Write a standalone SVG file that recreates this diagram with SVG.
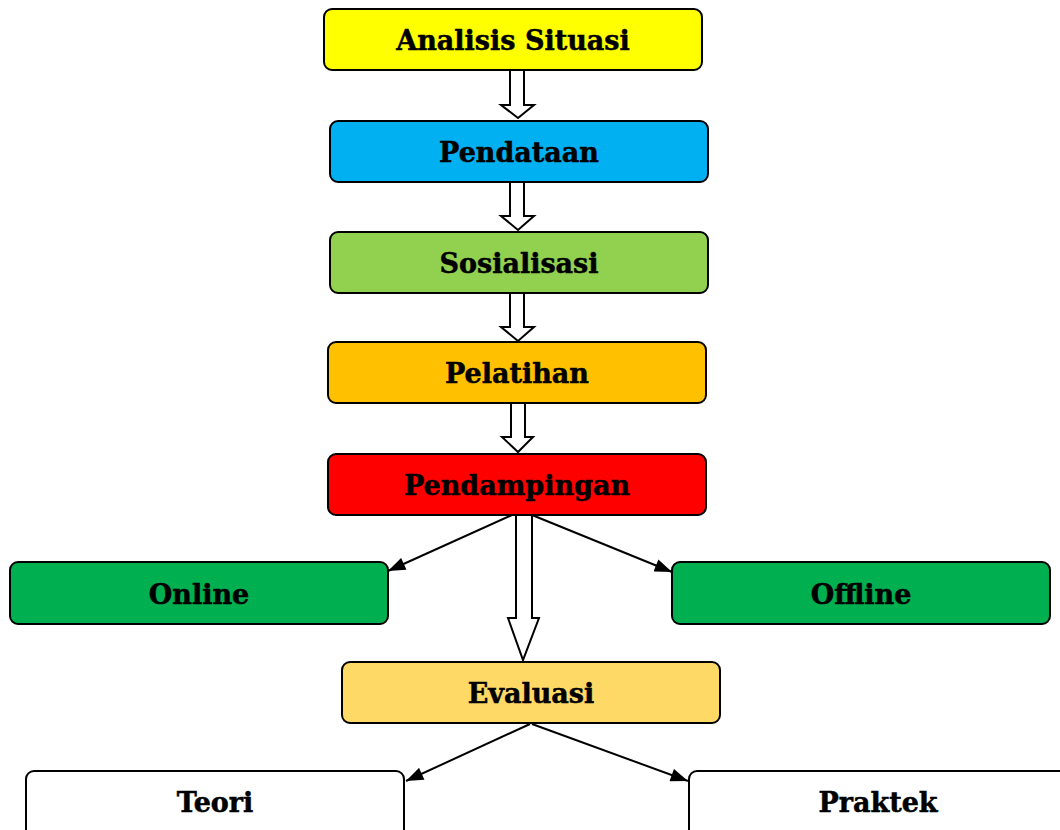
<svg xmlns="http://www.w3.org/2000/svg" width="1060" height="830" viewBox="0 0 1060 830">
<defs>
<style>
.box{stroke:#000;stroke-width:2}
.lbl{font-family:"DejaVu Serif","Liberation Serif",serif;font-weight:bold;font-size:27px;fill:#000;stroke:#000;stroke-width:0.5;text-anchor:middle}
.blk{fill:#fff;stroke:#000;stroke-width:2;stroke-linejoin:miter}
.ln{stroke:#000;stroke-width:2;fill:none}
</style>
<marker id="ah2" viewBox="0 0 16 12" refX="16" refY="6" markerWidth="18" markerHeight="13" markerUnits="userSpaceOnUse" orient="auto">
<path d="M0,0 L16,6 L0,12 Z" fill="#000"/>
</marker>
</defs>
<rect width="1060" height="830" fill="#fff"/>
<g id="connectors">
<path class="blk" d="M510,70 V105 H501 L518,118 L534,105 H524 V70"/>
<path class="blk" d="M510,182 V216 H501 L518,230 L534,216 H524 V182"/>
<path class="blk" d="M510,293 V327 H501 L518,341 L534,327 H524 V293"/>
<path class="blk" d="M511,403 V437 H502 L518,452 L533,437 H525 V403"/>
<path class="blk" d="M516,515 V618 H508 L523,660 L539,618 H532 V515"/>
<line class="ln" x1="512" y1="515" x2="388" y2="571" marker-end="url(#ah2)"/>
<line class="ln" x1="532" y1="515" x2="672" y2="572" marker-end="url(#ah2)"/>
<line class="ln" x1="530" y1="724" x2="406" y2="781" marker-end="url(#ah2)"/>
<line class="ln" x1="532" y1="724" x2="688" y2="781" marker-end="url(#ah2)"/>
</g>
<g id="n1"><rect class="box" x="324" y="9" width="378" height="61" rx="8" fill="#FFFF00"/><text class="lbl" x="513" y="50">Analisis Situasi</text></g>
<g id="n2"><rect class="box" x="330" y="121" width="378" height="61" rx="8" fill="#00B0F0"/><text class="lbl" x="519" y="162">Pendataan</text></g>
<g id="n3"><rect class="box" x="330" y="232" width="378" height="61" rx="8" fill="#92D050"/><text class="lbl" x="519" y="273">Sosialisasi</text></g>
<g id="n4"><rect class="box" x="328" y="342" width="378" height="61" rx="8" fill="#FFC000"/><text class="lbl" x="517" y="383">Pelatihan</text></g>
<g id="n5"><rect class="box" x="328" y="454" width="378" height="61" rx="8" fill="#FF0000"/><text class="lbl" x="517" y="495">Pendampingan</text></g>
<g id="n6"><rect class="box" x="10" y="562" width="378" height="62" rx="8" fill="#00B050"/><text class="lbl" x="199" y="604">Online</text></g>
<g id="n7"><rect class="box" x="672" y="562" width="378" height="62" rx="8" fill="#00B050"/><text class="lbl" x="861" y="604">Offline</text></g>
<g id="n8"><rect class="box" x="342" y="662" width="378" height="61" rx="8" fill="#FFD966"/><text class="lbl" x="531" y="703">Evaluasi</text></g>
<g id="n9"><rect class="box" x="26" y="771" width="378" height="70" rx="8" fill="#FFFFFF"/><text class="lbl" x="215" y="812">Teori</text></g>
<g id="n10"><rect class="box" x="689" y="771" width="378" height="70" rx="8" fill="#FFFFFF"/><text class="lbl" x="878" y="812">Praktek</text></g>
</svg>
